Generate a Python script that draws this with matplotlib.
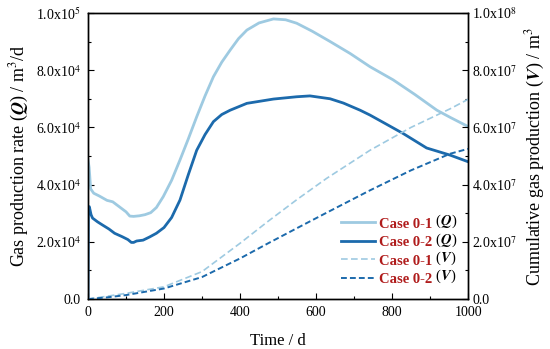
import matplotlib
matplotlib.use("Agg")
import matplotlib.pyplot as plt
import numpy as np
from matplotlib.ticker import MultipleLocator

plt.rcParams["font.family"] = ["Liberation Serif", "DejaVu Serif"]
plt.rcParams["mathtext.fontset"] = "stix"
plt.rcParams["font.size"] = 10

# gas production rate Q (m3/d)
t_q1 = [0, 3, 7, 15, 30, 50, 65, 80, 100, 110, 120, 135, 150, 165, 180, 198,
        220, 242, 264, 286, 308, 330, 352, 374, 396, 418, 450, 488, 520, 549,
        590, 637, 690, 742, 803, 860, 918, 953, 1000]
q1 = [48600, 46000, 38500, 37000, 36000, 34500, 34000, 32500, 30500, 29000,
      28900, 29100, 29500, 30200, 32000, 35800, 41500, 48600, 56000, 63700,
      71000, 77700, 82800, 87000, 91000, 94000, 96500, 97900, 97600, 96400,
      93600, 90000, 85800, 81200, 76600, 71500, 66000, 63500, 60300]

t_q2 = [0, 1, 3.5, 8, 12, 25, 38, 55, 70, 90, 105, 114, 120, 128, 145, 162,
        180, 200, 220, 242, 264, 286, 308, 330, 352, 374, 418, 488, 549, 584,
        637, 672, 716, 742, 780, 830, 891, 953, 1000]
q2 = [0, 31000, 32300, 29500, 28300, 27000, 25900, 24500, 23000, 21800,
      20800, 19800, 19800, 20300, 20600, 21700, 23000, 25000, 28500, 34600,
      43500, 52000, 57500, 62000, 64500, 66000, 68400, 69900, 70700, 71000,
      70000, 68500, 66000, 64300, 61500, 57800, 52800, 50300, 48000]

# cumulative gas production V (m3)
t_v = [0, 50, 100, 200, 300, 400, 474, 550, 628, 742, 850, 953, 1000]
v1 = [0, 1.0e6, 2.0e6, 4.3e6, 9.6e6, 19.5e6, 27.2e6, 34.8e6, 42.2e6,
      52.0e6, 60.0e6, 66.5e6, 69.8e6]
v2 = [0, 0.6e6, 1.4e6, 3.7e6, 7.7e6, 14.2e6, 19.5e6, 24.8e6, 30.2e6,
      38.0e6, 45.0e6, 50.8e6, 52.5e6]

light = "#9ecae1"
dark = "#1c6aac"
red = "#b01c1c"

fig = plt.figure(figsize=(5.5, 3.49), dpi=100)
ax = fig.add_axes([0.16, 0.143, 0.691, 0.82])
ax2 = ax.twinx()

l1, = ax.plot(t_q1, q1, color=light, lw=2.0)
l2, = ax.plot(t_q2, q2, color=dark, lw=2.0)
l3, = ax2.plot(t_v, v1, color=light, lw=1.2, ls=(0, (4, 2)))
l4, = ax2.plot(t_v, v2, color=dark, lw=1.4, ls=(0, (3, 1.6)))

ax.set_xlim(0, 1000)
ax.set_ylim(0, 1e5)
ax2.set_ylim(0, 1e8)

ax.xaxis.set_major_locator(MultipleLocator(200))
ax.xaxis.set_minor_locator(MultipleLocator(100))
ax.yaxis.set_minor_locator(MultipleLocator(1e4))
ax2.yaxis.set_minor_locator(MultipleLocator(1e7))

left_ticks = [0, 2e4, 4e4, 6e4, 8e4, 1e5]
left_labels = ["0.0", "2.0x10$^4$", "4.0x10$^4$", "6.0x10$^4$", "8.0x10$^4$",
               "1.0x10$^5$"]
right_ticks = [0, 2e7, 4e7, 6e7, 8e7, 1e8]
right_labels = ["0.0", "2.0x10$^7$", "4.0x10$^7$", "6.0x10$^7$", "8.0x10$^7$",
                "1.0x10$^8$"]
ax.set_yticks(left_ticks)
ax.set_yticklabels(left_labels)
ax2.set_yticks(right_ticks)
ax2.set_yticklabels(right_labels)

for a in (ax, ax2):
    a.tick_params(which="both", direction="in", labelsize=10, width=0.8)
    a.tick_params(which="major", length=4)
    a.tick_params(which="minor", length=2.5)
    for s in a.spines.values():
        s.set_linewidth(1.0)
ax.tick_params(axis="y", pad=5)
ax.tick_params(axis="x", pad=5)
ax2.tick_params(axis="y", pad=3)

ax.set_xlabel("Time / d", fontsize=12, labelpad=10)
ax.set_ylabel(r"Gas production rate ($\mathbfit{Q}$) / m$^3$/d", fontsize=13,
              labelpad=4)
ax2.set_ylabel(r"Cumulative gas production ($\mathbfit{V}$) / m$^3$", fontsize=13,
               labelpad=5)

leg = ax.legend([l1, l2, l3, l4], ["Case 0-1", "Case 0-2", "Case 0-1", "Case 0-2"],
                loc="lower left", bbox_to_anchor=(0.632, 0.0), frameon=False,
                handlelength=2.3, handletextpad=0.3, labelspacing=0.36,
                prop={"weight": "bold", "size": 10.5}, labelcolor=red)

# black (Q)/(V) after each red legend label
fig.canvas.draw()
W, H = fig.bbox.width, fig.bbox.height
for txt, sym in zip(leg.get_texts(), ["Q", "Q", "V", "V"]):
    bb = txt.get_window_extent()
    fig.text(bb.x1 / W, (bb.y0 + 0.5) / H, r" ($\mathbfit{%s}$)" % sym,
             va="bottom", ha="left", fontsize=10.5, color="black")

fig.savefig("out.png", dpi=100)
